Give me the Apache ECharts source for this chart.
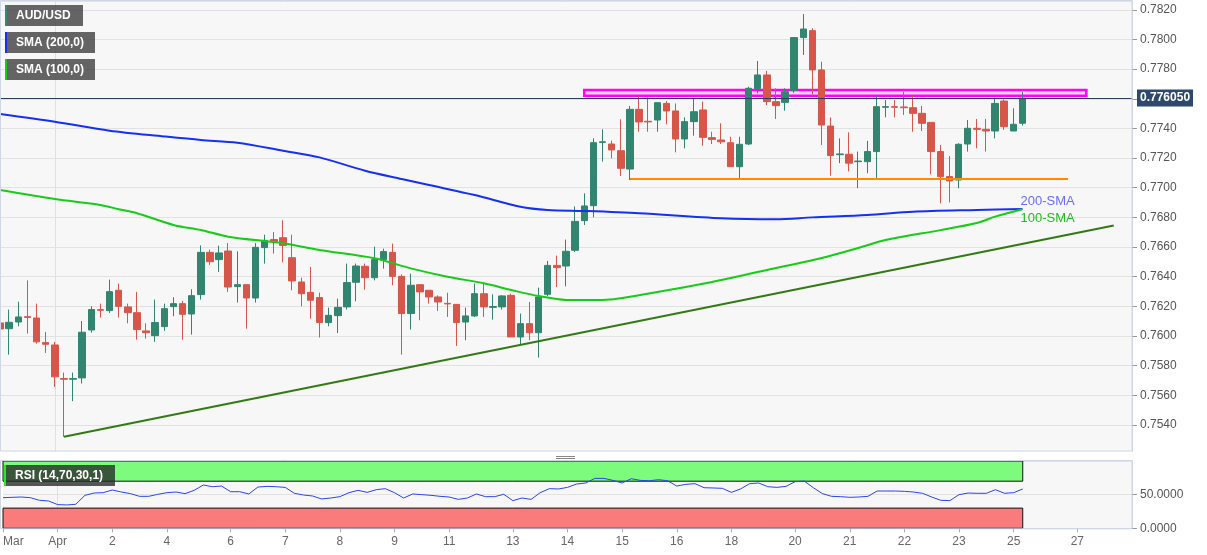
<!DOCTYPE html>
<html>
<head>
<meta charset="utf-8">
<script src="https://cdn.jsdelivr.net/npm/echarts@6/dist/echarts.min.js"></script>
<style>
html,body{margin:0;padding:0;background:#fff;}
#chart{width:1207px;height:555px;}
</style>
</head>
<body>
<div id="chart"></div>
<script>
// ---- data (4h AUD/USD candles) ----
const opens = [0.76088,0.76049,0.76094,0.76130,0.76121,0.75955,0.75939,0.75712,0.75708,0.75717,
0.76040,0.76178,0.76171,0.76308,0.76196,0.76157,0.76034,0.76002,0.76063,0.76198,
0.76218,0.76148,0.76279,0.76564,0.76515,0.76573,0.76333,0.76346,0.76256,0.76596,
0.76650,0.76663,0.76528,0.76364,0.76294,0.76259,0.76090,0.76137,0.76196,0.76362,
0.76470,0.76393,0.76515,0.76564,0.76402,0.76151,0.76346,0.76308,0.76263,0.76220,
0.76213,0.76094,0.76135,0.76285,0.76193,0.76196,0.76274,0.75993,0.76083,0.76022,
0.76281,0.76476,0.76472,0.76578,0.76778,0.76879,0.77306,0.77295,0.77250,0.77126,
0.77529,0.77448,0.77457,0.77569,0.77518,0.77329,0.77446,0.77525,0.77338,0.77322,
0.77304,0.77142,0.77295,0.77669,0.77761,0.77581,0.77576,0.77655,0.78013,0.78060,
0.77795,0.77416,0.77223,0.77226,0.77176,0.77176,0.77244,0.77543,0.77547,0.77545,
0.77540,0.77502,0.77441,0.77244,0.77075,0.77052,0.77295,0.77401,0.77394,0.77383,
0.77585,0.77383,0.77435];
const closes = [0.76047,0.76092,0.76128,0.76125,0.75960,0.75944,0.75724,0.75708,0.75712,0.76025,
0.76178,0.76173,0.76299,0.76200,0.76157,0.76043,0.76022,0.76090,0.76184,0.76218,
0.76146,0.76272,0.76564,0.76501,0.76560,0.76330,0.76346,0.76256,0.76598,0.76645,
0.76638,0.76611,0.76371,0.76285,0.76241,0.76090,0.76139,0.76193,0.76360,0.76472,
0.76393,0.76515,0.76569,0.76402,0.76151,0.76342,0.76297,0.76263,0.76229,0.76216,
0.76090,0.76135,0.76285,0.76196,0.76198,0.76270,0.75993,0.76083,0.76022,0.76263,
0.76476,0.76461,0.76571,0.76773,0.76877,0.77304,0.77310,0.77255,0.77131,0.77529,
0.77444,0.77444,0.77574,0.77518,0.77329,0.77446,0.77513,0.77340,0.77326,0.77310,
0.77142,0.77293,0.77671,0.77761,0.77581,0.77554,0.77648,0.78013,0.78071,0.77795,
0.77423,0.77217,0.77228,0.77166,0.77180,0.77244,0.77547,0.77547,0.77543,0.77540,
0.77502,0.77435,0.77244,0.77075,0.77046,0.77293,0.77401,0.77394,0.77383,0.77569,
0.77412,0.77428,0.77605];
const lows = [0.75948,0.75874,0.76065,0.76016,0.75948,0.75885,0.75656,0.75319,0.75560,0.75679,
0.76022,0.76124,0.76155,0.76124,0.76085,0.75975,0.75982,0.75960,0.76034,0.76133,
0.75975,0.76009,0.76245,0.76479,0.76432,0.76297,0.76225,0.76049,0.76225,0.76488,
0.76555,0.76497,0.76308,0.76200,0.76117,0.75989,0.76065,0.76020,0.76178,0.76234,
0.76312,0.76375,0.76454,0.76342,0.75874,0.76043,0.76106,0.76218,0.76169,0.76128,
0.75933,0.75971,0.76128,0.76128,0.76110,0.76178,0.75993,0.75944,0.75971,0.75854,
0.76268,0.76330,0.76335,0.76566,0.76749,0.76800,0.77176,0.77199,0.77079,0.77052,
0.77378,0.77378,0.77378,0.77428,0.77239,0.77266,0.77351,0.77284,0.77295,0.77295,
0.77142,0.77064,0.77288,0.77637,0.77558,0.77464,0.77520,0.77641,0.77896,0.77630,
0.77288,0.77081,0.77166,0.77110,0.76997,0.77098,0.77064,0.77475,0.77475,0.77491,
0.77378,0.77383,0.77091,0.76895,0.76901,0.76996,0.77244,0.77266,0.77244,0.77333,
0.77390,0.77383,0.77419];
const highs = [0.76191,0.76178,0.76231,0.76375,0.76218,0.76027,0.75960,0.75753,0.75753,0.76101,
0.76200,0.76218,0.76380,0.76353,0.76218,0.76297,0.76085,0.76245,0.76218,0.76261,
0.76236,0.76315,0.76611,0.76582,0.76609,0.76627,0.76571,0.76346,0.76627,0.76683,
0.76701,0.76780,0.76683,0.76393,0.76465,0.76292,0.76191,0.76252,0.76488,0.76488,
0.76488,0.76602,0.76589,0.76623,0.76416,0.76420,0.76346,0.76308,0.76274,0.76292,
0.76213,0.76191,0.76353,0.76357,0.76281,0.76274,0.76285,0.76151,0.76229,0.76326,
0.76506,0.76542,0.76650,0.76874,0.76962,0.77334,0.77394,0.77318,0.77462,0.77552,
0.77619,0.77610,0.77574,0.77585,0.77569,0.77475,0.77599,0.77581,0.77378,0.77435,
0.77344,0.77344,0.77682,0.77855,0.77788,0.77671,0.77671,0.78013,0.78172,0.78076,
0.77850,0.77475,0.77333,0.77374,0.77244,0.77316,0.77626,0.77592,0.77592,0.77648,
0.77619,0.77552,0.77441,0.77288,0.77214,0.77300,0.77457,0.77464,0.77464,0.77607,
0.77596,0.77536,0.77648];

// RSI(14) per candle
const rsi = [45.5,46,46.5,45.5,41.6,40.6,35.2,34.7,35.7,49,
52.4,52.9,56.9,53.9,51.5,47.5,47.5,50.5,52.9,53.9,
51.5,56.4,64.3,61.8,62.8,54.4,54.4,51,61.3,62.3,
61.8,60.8,52,49.5,48,43.6,45,47,52.9,56.4,
53.4,57.4,58.9,52.9,45,51,50,49,47.5,46.5,
43,45,51,47,47,50.5,41.1,45,43,52.9,
58.9,58.4,60.8,65.8,67.3,74.2,74.2,71.2,67.3,73.7,
71.2,70.7,72.2,70.7,62.8,65.3,66.3,60.3,59.9,59.4,
53.4,58.4,66.3,67.3,61.8,60.8,62.3,69.3,70.2,60.3,
51.5,47.5,47,46,46.5,47.5,55.4,55.4,55.4,54.9,
53.9,52,46.5,41.6,41.1,50,52.4,52,52,57.4,
52,52.9,58.4];

// SMA readings at candle indices
const sma200Idx = [0,6,12,18,22,26,31,35,40,44,47,52,57,60,64,70,79,85,89,95,100,107,112];
const sma200Val = [0.77498,0.77446,0.77385,0.77346,0.77322,0.77304,0.77250,0.77205,0.77115,0.77059,0.77018,0.76951,0.76872,0.76850,0.76843,0.76828,0.76794,0.76787,0.76800,0.76816,0.76838,0.76850,0.76857];
const sma100Idx = [0,6,11,13,15,19,22,25,31,35,41,45,49,53,56,59,62,66,72,78,84,90,94,97,103,107,109,112];
const sma100Val = [0.76985,0.76924,0.76884,0.76855,0.76828,0.76749,0.76715,0.76670,0.76625,0.76580,0.76524,0.76456,0.76400,0.76355,0.76310,0.76269,0.76243,0.76243,0.76297,0.76364,0.76445,0.76526,0.76593,0.76647,0.76714,0.76762,0.76805,0.76855];

// x-axis tick labels
const xLabelIdx = [0,6,12,18,25,31,37,43,49,56,62,68,74,80,87,93,99,105,111,118];
const xLabelText = ['Mar','Apr','2','4','6','7','8','9','11','13','14','15','16','18','20','21','22','23','25','27'];

// annotations
const trendStart = [7, 0.75320], trendEnd = [122, 0.76745];
const supportLevel = 0.77059, supportFrom = 69, supportTo = 117;
const resistTop = 0.77660, resistBottom = 0.77621, resistFrom = 64, resistTo = 119;

const N_SLOTS = 125;
const cats = Array.from({length: N_SLOTS}, (_, i) => String(i));
const labelMap = {};
xLabelIdx.forEach((k, j) => labelMap[k] = xLabelText[j]);
const lastPrice = closes[closes.length - 1];

const candleData = opens.map((o, i) => [o, closes[i], lows[i], highs[i]]);
const sma200 = sma200Idx.map((k, j) => [String(k), sma200Val[j]]);
const sma100 = sma100Idx.map((k, j) => [String(k), sma100Val[j]]);

const FONT = '"Liberation Sans", Arial, sans-serif';
const GREEN = '#32856f', RED = '#d6574a';

const chart = echarts.init(document.getElementById('chart'));

function legendBox(x, y, w, text, accent, bg) {
  return [
    {type: 'rect', z: 60, shape: {x: x, y: y, width: w, height: 21}, style: {fill: bg}},
    {type: 'rect', z: 61, shape: {x: x, y: y, width: 2, height: 21}, style: {fill: accent}},
    {type: 'text', z: 62, x: x + 11, y: y + 10.5, style: {text: text, fill: '#fff', font: 'bold 12px ' + FONT, textVerticalAlign: 'middle'}}
  ];
}

const option = {
  animation: false,
  backgroundColor: '#ffffff',
  textStyle: {fontFamily: FONT},
  grid: [
    {left: 0, top: 1, width: 1132, height: 453.5, show: true, backgroundColor: '#f7f7f7', borderWidth: 0},
    {left: 0, top: 461, width: 1132, height: 67.3, show: true, backgroundColor: '#f7f7f7', borderWidth: 0}
  ],
  xAxis: [
    {type: 'category', gridIndex: 0, data: cats, boundaryGap: false,
     axisLine: {show: false}, axisTick: {show: false}, axisLabel: {show: false},
     splitLine: {show: true, interval: (i) => i === 6, lineStyle: {color: '#e0e0e0'}}},
    {type: 'category', gridIndex: 1, data: cats, boundaryGap: false,
     axisLine: {show: true, lineStyle: {color: '#cfd6e6'}},
     axisTick: {show: true, interval: (i) => labelMap[i] !== undefined, length: 4, lineStyle: {color: '#aaa'}},
     axisLabel: {show: true, interval: (i) => labelMap[i] !== undefined, formatter: (v) => labelMap[+v] || '',
                 color: '#666', fontSize: 12, margin: 7, alignMinLabel: 'left', fontFamily: FONT},
     splitLine: {show: true, interval: (i) => i === 6, lineStyle: {color: '#e0e0e0'}}}
  ],
  yAxis: [
    {type: 'value', gridIndex: 0, position: 'right', min: 0.752, max: 0.7826, interval: 0.002,
     axisLine: {show: true, lineStyle: {color: '#cfd6e6'}},
     axisTick: {show: true, length: 5, lineStyle: {color: '#999'}},
     axisLabel: {color: '#555', fontSize: 12, margin: 8, showMinLabel: false, showMaxLabel: false,
                 formatter: (v) => v.toFixed(4), fontFamily: FONT},
     splitLine: {show: true, lineStyle: {color: '#e2e2e2'}}},
    {type: 'value', gridIndex: 1, position: 'right', min: 0, max: 100, interval: 50,
     axisLine: {show: true, lineStyle: {color: '#cfd6e6'}},
     axisTick: {show: true, length: 5, lineStyle: {color: '#999'}},
     axisLabel: {color: '#555', fontSize: 12, margin: 8, showMaxLabel: false,
                 formatter: (v) => v.toFixed(4), fontFamily: FONT},
     splitLine: {show: true, lineStyle: {color: '#e2e2e2'}}}
  ],
  series: [
    {
      type: 'candlestick', xAxisIndex: 0, yAxisIndex: 0, data: candleData, barWidth: 7,
      itemStyle: {color: GREEN, color0: RED, borderColor: GREEN, borderColor0: RED, borderWidth: 1},
      markArea: {
        silent: true,
        data: [[
          {coord: [String(resistFrom), resistTop], itemStyle: {color: 'rgba(255,190,255,0.55)', borderColor: '#ff00ff', borderWidth: 2.5}},
          {coord: [String(resistTo), resistBottom]}
        ]]
      },
      markLine: {
        silent: true, symbol: 'none',
        data: [
          [{coord: ['0', lastPrice], lineStyle: {color: '#2a3d5c', width: 1, type: 'solid'},
            label: {show: true, position: 'end', formatter: lastPrice.toFixed(6), color: '#fff', fontWeight: 'bold',
                    fontSize: 12, backgroundColor: '#2d4a6e', padding: [3, 3, 2, 3], distance: 5, fontFamily: FONT}},
           {coord: [String(N_SLOTS - 1), lastPrice]}],
          [{coord: [String(trendStart[0]), trendStart[1]], lineStyle: {color: '#347a14', width: 2, type: 'solid'}, label: {show: false}},
           {coord: [String(trendEnd[0]), trendEnd[1]]}],
          [{coord: [String(supportFrom), supportLevel], lineStyle: {color: '#ff8c00', width: 2, type: 'solid'}, label: {show: false}},
           {coord: [String(supportTo), supportLevel]}]
        ]
      }
    },
    {
      type: 'line', xAxisIndex: 0, yAxisIndex: 0, data: sma200, smooth: 0.3, showSymbol: false,
      lineStyle: {color: '#1530f5', width: 2}, itemStyle: {color: '#1530f5'}, z: 3,
      endLabel: {show: true, formatter: '200-SMA', color: '#6b6bff', fontSize: 13, distance: 0, offset: [-2, -8], fontFamily: FONT}
    },
    {
      type: 'line', xAxisIndex: 0, yAxisIndex: 0, data: sma100, smooth: 0.3, showSymbol: false,
      lineStyle: {color: '#16cc16', width: 2}, itemStyle: {color: '#16cc16'}, z: 3,
      endLabel: {show: true, formatter: '100-SMA', color: '#22bb22', fontSize: 13, distance: 0, offset: [-2, 9], fontFamily: FONT}
    },
    {
      type: 'line', xAxisIndex: 1, yAxisIndex: 1, data: rsi, showSymbol: false,
      lineStyle: {color: '#2a45ee', width: 1}, itemStyle: {color: '#2a45ee'},
      markArea: {
        silent: true,
        data: [
          [{xAxis: '0', yAxis: 70, itemStyle: {color: '#7dfb7d', borderColor: '#111', borderWidth: 1}}, {xAxis: '112', yAxis: 100}],
          [{xAxis: '0', yAxis: 0, itemStyle: {color: '#fa7b7b', borderColor: '#111', borderWidth: 1}}, {xAxis: '112', yAxis: 30}]
        ]
      }
    }
  ],
  graphic: [
    {type: 'rect', z: 50, shape: {x: 0, y: 451.5, width: 1207, height: 8.5}, style: {fill: '#ffffff'}},
    {type: 'rect', z: 51, shape: {x: 0.5, y: 0.5, width: 1131.5, height: 450.5}, style: {fill: null, stroke: '#cfd6e6', lineWidth: 1}},
    {type: 'rect', z: 51, shape: {x: 0.5, y: 460.5, width: 1131.5, height: 68.3}, style: {fill: null, stroke: '#cfd6e6', lineWidth: 1}},
    {type: 'line', z: 52, shape: {x1: 556, y1: 456.5, x2: 575, y2: 456.5}, style: {stroke: '#888', lineWidth: 1}},
    {type: 'line', z: 52, shape: {x1: 556, y1: 458.5, x2: 575, y2: 458.5}, style: {stroke: '#888', lineWidth: 1}}
  ].concat(
    legendBox(5, 5, 78, 'AUD/USD', '#2f8a73', 'rgba(62,62,62,0.8)'),
    legendBox(5, 32, 90, 'SMA (200,0)', '#1530f5', 'rgba(62,62,62,0.8)'),
    legendBox(5, 59, 90, 'SMA (100,0)', '#16cc16', 'rgba(62,62,62,0.8)'),
    legendBox(4, 465, 111, 'RSI (14,70,30,1)', '#22ee22', 'rgba(40,40,40,0.78)')
  )
};
chart.setOption(option);
</script>
</body>
</html>
